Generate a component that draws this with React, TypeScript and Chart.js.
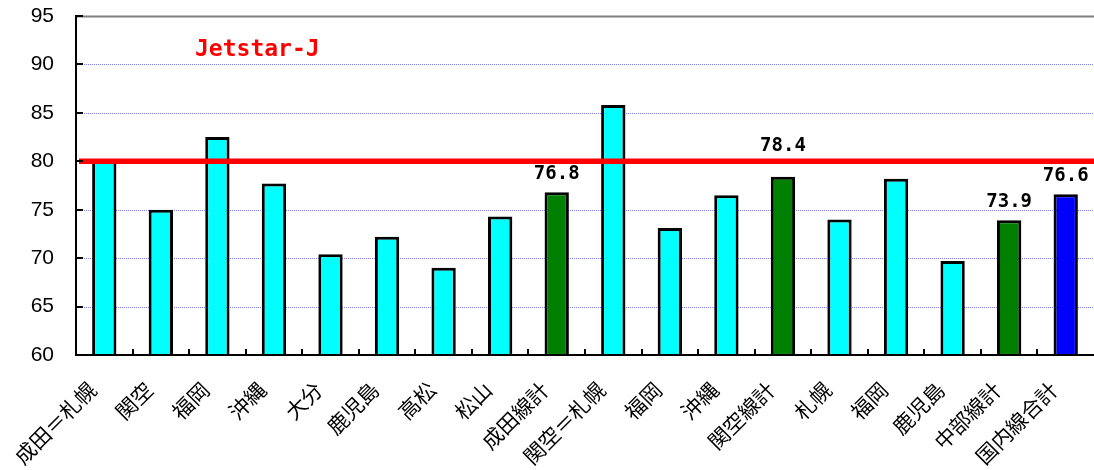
import React, { useEffect, useRef } from 'react';
import { Chart, registerables } from 'chart.js';

Chart.register(...registerables);

const categories = [
  '成田＝札幌', '関空', '福岡', '沖縄', '大分', '鹿児島', '高松', '松山', '成田線計',
  '関空＝札幌', '福岡', '沖縄', '関空線計', '札幌', '福岡', '鹿児島', '中部線計', '国内線合計',
];
const loadFactors = [80.2, 75.0, 82.5, 77.7, 70.4, 72.2, 69.0, 74.3, 76.8, 85.8, 73.1, 76.5, 78.4, 74.0, 78.2, 69.7, 73.9, 76.6];
const barKinds = [
  'route', 'route', 'route', 'route', 'route', 'route', 'route', 'route', 'subtotal',
  'route', 'route', 'route', 'subtotal', 'route', 'route', 'route', 'subtotal', 'total',
];
const valueLabels = ['', '', '', '', '', '', '', '', '76.8', '', '', '', '78.4', '', '', '', '73.9', '76.6'];
const yMin = 60;
const yMax = 95;
const yStep = 5;
const targetValue = 80;
const targetLabel = 'Jetstar-J';

const kindColors: Record<string, string> = {
  route: '#00FFFF',
  subtotal: '#008000',
  total: '#0000FF',
};

const overlayPlugin = {
  id: 'overlay',
  beforeDatasetsDraw(chart: any) {
    const { ctx, chartArea: a, scales } = chart;
    const y = scales.y;
    ctx.save();
    y.ticks.forEach((t: any) => {
      if (t.value === yMin) return;
      const py = Math.round(y.getPixelForValue(t.value)) + 0.5;
      ctx.beginPath();
      if (t.value === yMax) {
        ctx.strokeStyle = '#808080';
        ctx.lineWidth = 2;
        ctx.setLineDash([]);
      } else {
        ctx.strokeStyle = '#7f7fff';
        ctx.lineWidth = 1;
        ctx.setLineDash([1, 1]);
      }
      ctx.moveTo(a.left, py);
      ctx.lineTo(a.right, py);
      ctx.stroke();
    });
    ctx.restore();
  },
  afterDatasetsDraw(chart: any) {
    const { ctx, chartArea: a, scales } = chart;
    const x = scales.x;
    const y = scales.y;
    ctx.save();
    ctx.setLineDash([]);

    // target line
    const redY = y.getPixelForValue(targetValue);
    ctx.strokeStyle = '#FF0000';
    ctx.lineWidth = 5.5;
    ctx.beginPath();
    ctx.moveTo(a.left + 3, redY);
    ctx.lineTo(a.right, redY);
    ctx.stroke();

    // axes
    ctx.strokeStyle = '#000';
    ctx.lineWidth = 2;
    ctx.beginPath();
    ctx.moveTo(a.left, a.top - 1);
    ctx.lineTo(a.left, a.bottom + 1);
    ctx.moveTo(a.left - 1, a.bottom);
    ctx.lineTo(a.right, a.bottom);
    ctx.stroke();

    // y ticks (inside)
    ctx.beginPath();
    y.ticks.forEach((t: any) => {
      const py = Math.round(y.getPixelForValue(t.value));
      ctx.moveTo(a.left, py);
      ctx.lineTo(a.left + 7, py);
    });
    // x ticks (inside, at category boundaries)
    for (let i = 1; i < categories.length; i++) {
      const px = Math.round((x.getPixelForValue(i - 1) + x.getPixelForValue(i)) / 2);
      ctx.moveTo(px, a.bottom);
      ctx.lineTo(px, a.bottom - 6);
    }
    ctx.stroke();

    // value labels
    ctx.fillStyle = '#000';
    ctx.font = 'bold 19px "DejaVu Sans Mono"';
    ctx.textAlign = 'center';
    ctx.textBaseline = 'middle';
    valueLabels.forEach((lab, i) => {
      if (!lab) return;
      const px = x.getPixelForValue(i);
      const top = y.getPixelForValue(loadFactors[i]);
      let cy = top - 18;
      if (cy + 9 > redY - 3 && cy - 9 < redY + 3) cy = redY - 15;
      ctx.fillText(lab, px, cy);
    });

    // target text
    ctx.fillStyle = '#FF0000';
    ctx.font = 'bold 23px "DejaVu Sans Mono"';
    ctx.textAlign = 'left';
    ctx.textBaseline = 'middle';
    ctx.fillText(targetLabel, 195, 50);

    // category labels (rotated)
    ctx.fillStyle = '#000';
    ctx.font = '21px "Noto Sans CJK JP"';
    ctx.textAlign = 'right';
    ctx.textBaseline = 'middle';
    categories.forEach((lab, i) => {
      const px = x.getPixelForValue(i) - 12;
      const py = a.bottom + 31;
      ctx.save();
      ctx.translate(px, py);
      ctx.rotate(-Math.PI / 4);
      ctx.fillText(lab, 0, 0);
      ctx.restore();
    });
    ctx.restore();
  },
};

export default function App() {
  const canvasRef = useRef<HTMLCanvasElement | null>(null);

  useEffect(() => {
    document.body.style.margin = '0';
    const canvas = canvasRef.current;
    if (!canvas) return;
    const chart = new Chart(canvas, {
      type: 'bar',
      data: {
        labels: categories,
        datasets: [
          {
            data: loadFactors,
            backgroundColor: barKinds.map((k) => kindColors[k]),
            borderColor: '#000',
            borderWidth: 3,
            barPercentage: 0.43,
            categoryPercentage: 1,
          },
        ],
      },
      options: {
        animation: false,
        responsive: false,
        devicePixelRatio: 1,
        layout: { padding: { top: 16, left: 0, right: 0, bottom: 0 } },
        plugins: {
          legend: { display: false },
          tooltip: { enabled: false },
        },
        scales: {
          x: {
            type: 'category',
            offset: true,
            grid: { display: false, drawTicks: false },
            border: { display: false },
            ticks: { display: false },
            afterFit(s: any) {
              s.height = 115;
              s.paddingLeft = 0;
              s.paddingRight = 0;
            },
          },
          y: {
            min: yMin,
            max: yMax,
            grid: { display: false, drawTicks: false },
            border: { display: false },
            ticks: {
              stepSize: yStep,
              padding: 22,
              color: '#000',
              font: { size: 21, family: '"Liberation Sans", Arial, sans-serif' },
            },
            afterFit(s: any) {
              s.width = 76;
              s.paddingTop = 0;
              s.paddingBottom = 0;
            },
          },
        },
      },
      plugins: [overlayPlugin],
    });
    return () => chart.destroy();
  }, []);

  return (
    <div style={{ width: 1094, height: 470, position: 'relative' }}>
      <canvas ref={canvasRef} width={1094} height={470} style={{ display: 'block', width: 1094, height: 470 }} />
    </div>
  );
}
